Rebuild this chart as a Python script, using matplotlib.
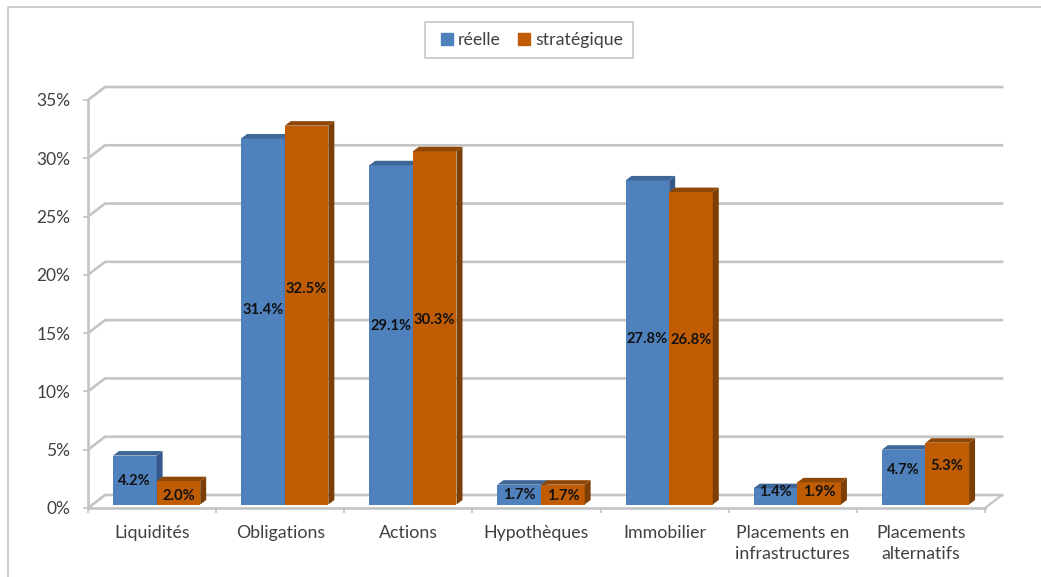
import matplotlib
matplotlib.use("Agg")
import matplotlib.pyplot as plt
from matplotlib.lines import Line2D
from matplotlib.patches import Patch, Rectangle

categories = ["Liquidités", "Obligations", "Actions", "Hypothèques", "Immobilier",
              "Placements en\ninfrastructures", "Placements\nalternatifs"]
reelle = [4.2, 31.4, 29.1, 1.7, 27.8, 1.4, 4.7]
strategique = [2.0, 32.5, 30.3, 1.7, 26.8, 1.9, 5.3]
yticks = [0, 5, 10, 15, 20, 25, 30, 35]

# where the labels sit in the original, pixels from the top of the image
label_px_reelle = [481, 310, 326, 495, 339, 492, 470]
label_px_strat = [496, 289, 320, 496, 340, 492, 466]

W, H = 1041, 577
LEFT, RIGHT, TOP, BOTTOM = 88, 985, 100, 508

plt.rcParams['font.family'] = ['Lato', 'DejaVu Sans']
fig = plt.figure(figsize=(W / 100, H / 100), dpi=100)
ax = fig.add_axes([LEFT / W, 1 - BOTTOM / H, (RIGHT - LEFT) / W, (BOTTOM - TOP) / H])
ax.set_xlim(0, 7)
ax.set_ylim(0, 35)

px_x = 7 / (RIGHT - LEFT)
px_y = 35 / (BOTTOM - TOP)

GREY = "#c4c4c4"
TEXT = "#404040"
BLUE, BLUE_SIDE, BLUE_TOP = "#4f81bd", "#36598a", "#3e6696"
ORANGE, ORANGE_SIDE, ORANGE_TOP = "#c05c04", "#7d3f06", "#8f4705"

# back wall grid
wall_dx, wall_dy = 17 * px_x, 13 * px_y
for t in yticks:
    ax.plot([0, wall_dx, 7 + wall_dx], [t, t + wall_dy, t + wall_dy], color=GREY, lw=1.9,
            clip_on=False, zorder=1, solid_joinstyle="miter")
ax.plot([7, 7 + wall_dx], [0, wall_dy], color=GREY, lw=1.6, clip_on=False, zorder=1)

# bars with their fake 3d faces
bar_w = 43.6 * px_x
base = 3.5 * px_y
dx, dy = 6 * px_x, 4.5 * px_y


def draw_bar(x, val, front, side, top):
    y0, y1 = base, base + val
    ax.bar(x, val, bar_w, bottom=base, align="edge", color=front, zorder=3, clip_on=False)
    ax.fill([x + bar_w, x + bar_w + dx, x + bar_w + dx, x + bar_w],
            [y0, y0 + dy, y1 + dy, y1], color=side, lw=0, zorder=3, clip_on=False)
    ax.fill([x, x + dx, x + bar_w + dx, x + bar_w],
            [y1, y1 + dy, y1 + dy, y1], color=top, lw=0, zorder=3, clip_on=False)


for i in range(len(categories)):
    x = i + 25 * px_x
    draw_bar(x, reelle[i], BLUE, BLUE_SIDE, BLUE_TOP)
    draw_bar(x + bar_w, strategique[i], ORANGE, ORANGE_SIDE, ORANGE_TOP)
    for xx, v, py in [(x, reelle[i], label_px_reelle[i]),
                      (x + bar_w, strategique[i], label_px_strat[i])]:
        ax.text(xx + bar_w / 2, (BOTTOM - py) * px_y, "%.1f%%" % v, ha="center", va="center",
                fontsize=10.6, fontweight="bold", color="#111111", zorder=5)

for s in ["top", "right"]:
    ax.spines[s].set_visible(False)
for s in ["left", "bottom"]:
    ax.spines[s].set_color(GREY)
    ax.spines[s].set_linewidth(1.9)
    ax.spines[s].set_zorder(2)

ax.set_yticks(yticks)
ax.set_yticklabels(["%d%%" % t for t in yticks], fontsize=12.5, color=TEXT)
ax.tick_params(axis="y", length=3.6, width=1.2, color=GREY, pad=9)
ax.set_xticks(range(8))
ax.set_xticklabels([])
ax.tick_params(axis="x", which="major", length=3.6, width=1.2, color=GREY)
ax.set_xticks([i + 0.5 for i in range(7)], minor=True)
ax.set_xticklabels(categories, minor=True, fontsize=12.8, color=TEXT, linespacing=1.4)
ax.tick_params(axis="x", which="minor", length=0, pad=12)

# chart area border: only left and top show
fig.add_artist(Line2D([7.5 / W, 7.5 / W, 1], [0, 1 - 6.5 / H, 1 - 6.5 / H], color=GREY, lw=1.2))

# legend box is off-centre around its entries, so the frame is drawn on its own
fig.add_artist(Rectangle((424.5 / W, 1 - 58 / H), 208.5 / W, 36 / H, transform=fig.transFigure,
                         facecolor="white", edgecolor="#cfcfcf", lw=1.4))
fig.legend(handles=[Patch(color=BLUE, label="réelle"), Patch(color=ORANGE, label="stratégique")],
           loc="center", bbox_to_anchor=(532 / W, 1 - 40 / H), ncol=2, fontsize=12.8,
           frameon=False, handlelength=0.68, handleheight=0.68, handletextpad=0.25,
           columnspacing=1.0, borderpad=0, labelcolor=TEXT)

fig.savefig("out.png", dpi=100)
